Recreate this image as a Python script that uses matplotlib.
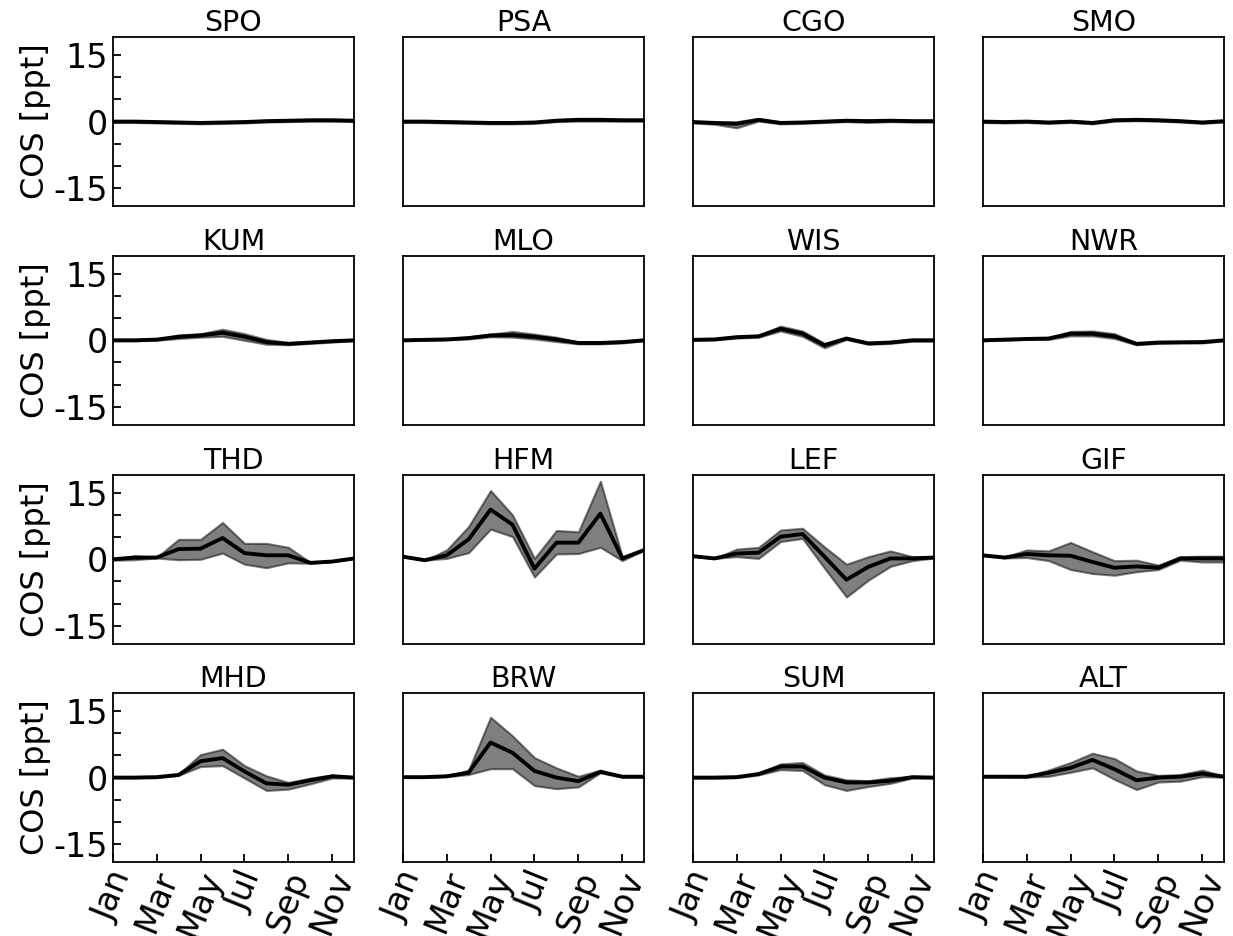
import matplotlib
matplotlib.use('Agg')
import matplotlib.pyplot as plt
import numpy as np

months = ['Jan', 'Feb', 'Mar', 'Apr', 'May', 'Jun', 'Jul', 'Aug', 'Sep', 'Oct', 'Nov', 'Dec']
stations = ['SPO', 'PSA', 'CGO', 'SMO',
            'KUM', 'MLO', 'WIS', 'NWR',
            'THD', 'HFM', 'LEF', 'GIF',
            'MHD', 'BRW', 'SUM', 'ALT']

## median
med = {}
med['SPO'] = [0, 0, -0.1, -0.2, -0.3, -0.2, -0.1, 0.1, 0.2, 0.3, 0.3, 0.2]
med['PSA'] = [0, 0, -0.1, -0.2, -0.3, -0.3, -0.2, 0.2, 0.4, 0.4, 0.3, 0.3]
med['CGO'] = [-0.1, -0.3, -0.5, 0.4, -0.3, -0.2, 0, 0.2, 0.1, 0.2, 0.1, 0.1]
med['SMO'] = [0, -0.1, 0, -0.2, 0, -0.3, 0.3, 0.4, 0.3, 0.1, -0.2, 0.1]
med['KUM'] = [0, 0, 0.15, 0.8, 1.1, 1.7, 0.8, -0.4, -0.8, -0.5, -0.2, 0]
med['MLO'] = [0, 0.1, 0.2, 0.5, 1.1, 1.2, 0.8, 0.2, -0.6, -0.6, -0.4, 0]
med['WIS'] = [0.1, 0.2, 0.7, 0.9, 2.6, 1.5, -1.1, 0.4, -0.7, -0.5, 0, 0]
med['NWR'] = [0, 0.15, 0.3, 0.4, 1.5, 1.5, 0.9, -0.8, -0.5, -0.45, -0.4, 0]
med['THD'] = [0, 0.4, 0.4, 2.3, 2.4, 4.8, 1.4, 0.9, 0.9, -0.8, -0.5, 0.2]
med['HFM'] = [0.6, -0.2, 0.9, 4.5, 11.2, 7.8, -2.1, 3.75, 3.75, 10.3, 0.2, 2.1]
med['LEF'] = [0.7, 0.2, 1.3, 1.5, 5.1, 5.7, 0.6, -4.6, -1.7, 0.2, 0.2, 0.4]
med['GIF'] = [0.9, 0.4, 1.2, 0.9, 0.8, -0.6, -1.9, -1.6, -1.9, 0.2, 0.2, 0.2]
med['MHD'] = [0, 0, 0.1, 0.6, 3.7, 4.4, 1.4, -1.3, -1.6, -0.6, 0.3, 0]
med['BRW'] = [0.1, 0.1, 0.3, 1.1, 7.9, 5.6, 1.5, 0, -0.8, 1.3, 0.2, 0.2]
med['SUM'] = [0, 0, 0.1, 0.8, 2.5, 2.5, 0, -1.1, -1.1, -0.7, 0.1, 0]
med['ALT'] = [0.2, 0.2, 0.2, 1.1, 2.2, 4.0, 1.9, -0.6, 0, 0.2, 0.9, 0.2]

## upper bound
upp = {}
upp['SPO'] = [0.2, 0.2, 0.1, 0, -0.1, 0, 0.1, 0.3, 0.4, 0.5, 0.5, 0.4]
upp['PSA'] = [0.2, 0.2, 0.1, 0, -0.1, -0.1, 0, 0.4, 0.7, 0.7, 0.5, 0.5]
upp['CGO'] = [0.1, -0.1, 0, 0.7, -0.1, 0, 0.2, 0.4, 0.4, 0.4, 0.3, 0.3]
upp['SMO'] = [0.2, 0.1, 0.2, 0, 0.2, -0.1, 0.5, 0.6, 0.5, 0.3, 0, 0.3]
upp['KUM'] = [0.1, 0.1, 0.3, 1.2, 1.5, 2.5, 1.5, 0.2, -0.5, -0.3, 0, 0.1]
upp['MLO'] = [0.1, 0.2, 0.3, 0.8, 1.4, 2.0, 1.4, 0.7, -0.4, -0.4, -0.2, 0.1]
upp['WIS'] = [0.2, 0.3, 0.9, 1.1, 3.2, 2.1, -0.7, 0.6, -0.5, -0.3, 0.2, 0.2]
upp['NWR'] = [0.1, 0.3, 0.4, 0.6, 2.0, 2.1, 1.5, -0.6, -0.3, -0.3, -0.2, 0.1]
upp['THD'] = [0, 0.8, 0.4, 4.5, 4.5, 8.3, 3.6, 3.6, 2.7, -0.7, -0.5, 0.2]
upp['HFM'] = [0.6, -0.2, 2.1, 7.4, 15.5, 10.0, 0.2, 6.5, 6.2, 17.6, 0.6, 2.1]
upp['LEF'] = [0.7, 0.2, 2.3, 2.7, 6.6, 7.0, 2.8, -1.1, 0.6, 1.9, 0.6, 0.5]
upp['GIF'] = [1.0, 0.5, 2.1, 1.9, 3.8, 1.7, -0.3, -0.2, -1.3, 0.6, 0.7, 0.7]
upp['MHD'] = [0, 0, 0.1, 0.8, 5.2, 6.4, 2.7, 0.4, -1.1, -0.1, 0.6, 0.1]
upp['BRW'] = [0.1, 0.1, 0.3, 1.7, 13.6, 9.4, 4.5, 2.2, 0.3, 1.7, 0.3, 0.2]
upp['SUM'] = [0.1, 0.1, 0.2, 1.0, 3.1, 3.4, 0.6, -0.5, -0.7, 0, 0.2, 0.1]
upp['ALT'] = [0.2, 0.2, 0.2, 1.7, 3.4, 5.5, 4.3, 1.5, 0.5, 0.7, 1.7, 0.3]

## lower bound
low = {}
low['SPO'] = [-0.2, -0.2, -0.3, -0.4, -0.5, -0.4, -0.3, -0.1, 0, 0.1, 0.1, 0]
low['PSA'] = [-0.2, -0.2, -0.3, -0.4, -0.5, -0.5, -0.4, 0, 0.1, 0.1, 0.1, 0.1]
low['CGO'] = [-0.3, -0.6, -1.4, 0.1, -0.5, -0.4, -0.2, 0, -0.2, 0, -0.1, -0.1]
low['SMO'] = [-0.2, -0.3, -0.2, -0.4, -0.2, -0.5, 0.1, 0.2, 0.1, -0.1, -0.4, -0.1]
low['KUM'] = [-0.1, -0.1, 0, 0.4, 0.7, 0.9, 0, -0.9, -1.0, -0.7, -0.4, -0.1]
low['MLO'] = [-0.1, 0, 0.1, 0.3, 0.8, 0.7, 0.3, -0.3, -0.8, -0.8, -0.6, -0.1]
low['WIS'] = [0, 0.1, 0.5, 0.7, 2.1, 0.9, -1.7, 0.2, -0.9, -0.7, -0.2, -0.2]
low['NWR'] = [-0.1, 0, 0.2, 0.2, 1.0, 1.0, 0.4, -1.0, -0.7, -0.6, -0.6, -0.1]
low['THD'] = [-0.2, -0.1, 0.3, -0.1, 0, 1.4, -1.1, -1.9, -0.8, -0.9, -0.5, 0.2]
low['HFM'] = [0.6, -0.2, 0.2, 1.5, 6.8, 5.1, -4.0, 1.2, 1.3, 2.7, -0.3, 2.1]
low['LEF'] = [0.7, 0.2, 0.6, 0.2, 4.0, 4.7, -2.0, -8.5, -4.7, -1.6, -0.3, 0.3]
low['GIF'] = [0.8, 0.3, 0.4, -0.3, -2.3, -3.2, -3.6, -2.8, -2.3, -0.2, -0.6, -0.6]
low['MHD'] = [0, 0, 0, 0.5, 2.5, 2.7, -0.1, -2.9, -2.6, -1.4, -0.1, -0.1]
low['BRW'] = [0.1, 0.1, 0.2, 0.7, 2.0, 2.0, -1.8, -2.5, -2.1, 1.1, 0.1, 0.1]
low['SUM'] = [-0.1, -0.1, 0, 0.6, 1.8, 1.6, -1.6, -2.9, -2.0, -1.3, -0.1, -0.1]
low['ALT'] = [0.2, 0.2, 0.1, 0.3, 1.2, 2.2, -0.4, -2.7, -1.0, -0.8, 0.2, 0.1]

W, H = 1233, 936
fig = plt.figure(figsize=(W / 100, H / 100), dpi=100)

lefts = [112.7, 402.7, 692.7, 982.7]
tops = [37.3, 256.0, 475.0, 693.3]
aw, ah = 241.6, 168.6

x = np.arange(12)
for i, st in enumerate(stations):
    r, c = i // 4, i % 4
    ax = fig.add_axes([lefts[c] / W, 1 - (tops[r] + ah) / H, aw / W, ah / H])
    ax.fill_between(x, low[st], upp[st], color='k', alpha=0.5, linewidth=1.5)
    ax.plot(x, med[st], color='k', linewidth=2.8)
    ax.set_xlim(0, 11)
    ax.set_ylim(-19, 19)
    ax.set_title(st, fontsize=20.5, pad=3)
    for s in ax.spines.values():
        s.set_linewidth(1.3)
    ax.tick_params(direction='in', length=6, width=1.3, labelsize=24)
    ax.set_yticks([-15, -10, -5, 0, 5, 10, 15])
    if c == 0:
        ax.set_yticklabels(['-15', '', '', '0', '', '', '15'])
        ax.set_ylabel('COS [ppt]', fontsize=23, labelpad=2)
    else:
        ax.tick_params(axis='y', left=False, labelleft=False)
    if r == 3:
        ax.set_xticks(x[::2])
        ax.set_xticklabels(months[::2], rotation=68, ha='center')
        ax.tick_params(axis='x', pad=3)
    else:
        ax.tick_params(axis='x', bottom=False, labelbottom=False)

fig.savefig('out.png', dpi=100)
